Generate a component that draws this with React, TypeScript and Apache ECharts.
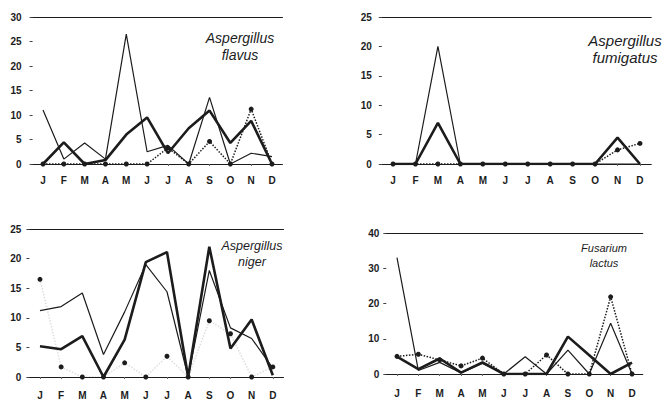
import React, { useEffect, useRef } from "react";
import * as echarts from "echarts";

const months = ["J", "F", "M", "A", "M", "J", "J", "A", "S", "O", "N", "D"];

const flavusThin = [11, 1, 4.3, 1, 26.5, 2.5, 3.8, 0, 13.6, 0, 2.2, 1.5];
const flavusThick = [0, 4.4, 0, 0.8, 6, 9.5, 2.2, 7.3, 10.9, 4.3, 8.8, 0];
const flavusDotted = [0, 0, 0, 0, 0, 0, 3.3, 0, 4.6, 0, 11.2, 0];

const fumigatusThin = [0, 0, 20, 0, 0, 0, 0, 0, 0, 0, 0, 0];
const fumigatusThick = [0, 0, 7, 0, 0, 0, 0, 0, 0, 0, 4.5, 0];
const fumigatusDotted = [0, 0, 0, 0, 0, 0, 0, 0, 0, 0, 2.4, 3.5];

const nigerThin = [11.2, 11.9, 14.2, 3.8, 11, 19, 14.4, 0, 18, 8.3, 6.5, 1.5];
const nigerThick = [5.2, 4.7, 6.9, 0, 6.3, 19.4, 21.1, 0, 22, 4.8, 9.7, 0.3];
const nigerDotted = [16.5, 1.7, 0, 0, 2.4, 0, 3.5, 0, 9.5, 7.3, 0, 1.7];

const lactusThin = [33, 1, 3.3, 0.3, 3, 0, 4.9, 0, 6.8, 0, 14.4, 0];
const lactusThick = [4.9, 1.4, 4.4, 0.4, 3.3, 0, 0, 0, 10.6, 5.3, 0, 3.2];
const lactusDotted = [5, 5.6, 4, 2.3, 4.5, 0, 0, 5.4, 0, 0, 21.9, 0];

const yMax = [30, 25, 25, 40];
const yInterval = [5, 5, 5, 10];

const titles = [
  { lines: ["Aspergillus", "flavus"], x: 240, y: [38, 55], size: 14 },
  { lines: ["Aspergillus", "fumigatus"], x: 625, y: [40, 57], size: 15 },
  { lines: ["Aspergillus", "niger"], x: 252, y: [246, 262], size: 12.5 },
  { lines: ["Fusarium", "lactus"], x: 604, y: [248, 263], size: 11 },
];

const panels = [
  { thin: flavusThin, thick: flavusThick, dotted: flavusDotted, faintDots: false },
  { thin: fumigatusThin, thick: fumigatusThick, dotted: fumigatusDotted, faintDots: false },
  { thin: nigerThin, thick: nigerThick, dotted: nigerDotted, faintDots: true },
  { thin: lactusThin, thick: lactusThick, dotted: lactusDotted, faintDots: false },
];

const grids = [
  { left: 32.6, top: 17, width: 249.8, height: 147 },
  { left: 381.8, top: 17, width: 269.4, height: 147 },
  { left: 29.4, top: 229, width: 254, height: 148 },
  { left: 386.3, top: 233, width: 256.4, height: 141 },
];
const yLabelMargin = [11, 10, 8, 7];
const xLabelMargin = [11, 11, 13, 14];

const ink = "#1c1c1c";

export default function App() {
  const ref = useRef<HTMLDivElement>(null);
  useEffect(() => {
    if (!ref.current) return;
    const chart = echarts.init(ref.current, undefined, { renderer: "svg" });
    const xAxis: any[] = [];
    const yAxis: any[] = [];
    const series: any[] = [];
    panels.forEach((p, i) => {
      xAxis.push({
        type: "category",
        gridIndex: i,
        data: months,
        boundaryGap: true,
        axisLine: { show: true, lineStyle: { color: ink, width: 1.2 } },
        axisTick: { show: true, alignWithLabel: true, length: 2, lineStyle: { color: "#666" } },
        axisLabel: {
          color: ink,
          fontWeight: "bold",
          fontSize: 10,
          fontFamily: "Liberation Sans",
          margin: xLabelMargin[i],
        },
      });
      xAxis.push({
        type: "category",
        gridIndex: i,
        data: months,
        position: "top",
        axisLine: { show: true, lineStyle: { color: ink, width: 1.2 } },
        axisTick: { show: false },
        axisLabel: { show: false },
      });
      yAxis.push({
        type: "value",
        gridIndex: i,
        min: 0,
        max: yMax[i],
        interval: yInterval[i],
        axisLine: { show: false },
        axisTick: { show: true, length: 3, lineStyle: { color: "#444" } },
        splitLine: { show: false },
        axisLabel: {
          color: ink,
          fontWeight: "bold",
          fontSize: 10,
          fontFamily: "Liberation Sans",
          margin: yLabelMargin[i],
        },
      });
      series.push({
        type: "line",
        xAxisIndex: i * 2,
        yAxisIndex: i,
        data: p.dotted,
        symbol: "circle",
        symbolSize: 5,
        showSymbol: true,
        itemStyle: { color: ink },
        lineStyle: {
          color: ink,
          width: 1.5,
          type: "dotted",
          opacity: p.faintDots ? 0.15 : 1,
        },
        z: 3,
      });
      series.push({
        type: "line",
        xAxisIndex: i * 2,
        yAxisIndex: i,
        data: p.thin,
        symbol: "none",
        lineStyle: { color: ink, width: 1.2 },
        z: 2,
      });
      series.push({
        type: "line",
        xAxisIndex: i * 2,
        yAxisIndex: i,
        data: p.thick,
        symbol: "none",
        lineStyle: { color: ink, width: 2.6 },
        z: 4,
      });
    });

    const graphic: any[] = [];
    titles.forEach((t) => {
      t.lines.forEach((line, k) => {
        graphic.push({
          type: "text",
          x: t.x,
          y: t.y[k],
          style: {
            text: line,
            fill: ink,
            font: `italic ${t.size}px "Liberation Sans"`,
            textAlign: "center",
            textVerticalAlign: "middle",
          },
        });
      });
    });

    chart.setOption({
      animation: false,
      backgroundColor: "#ffffff",
      grid: grids.map((g) => ({ ...g, containLabel: false })),
      xAxis,
      yAxis,
      series,
      graphic,
    });
    return () => chart.dispose();
  }, []);
  return (
    <div
      ref={ref}
      style={{ position: "fixed", left: 0, top: 0, width: 665, height: 400 }}
    />
  );
}
